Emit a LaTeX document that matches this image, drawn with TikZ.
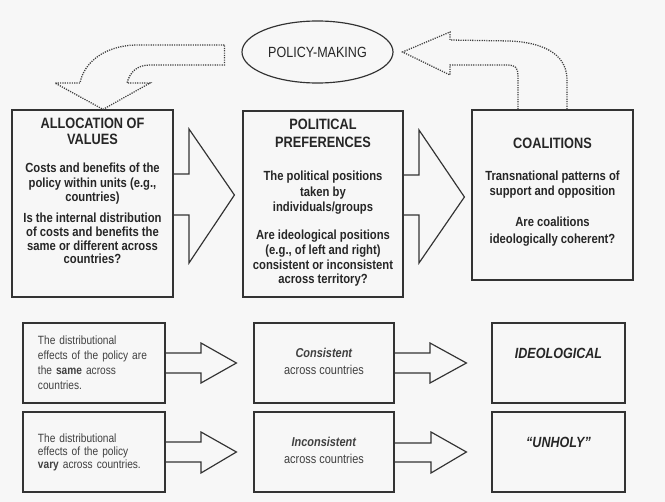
\documentclass[tikz,border=0pt]{standalone}
\usepackage{fontspec}
\setmainfont{Liberation Sans}[FakeStretch=0.85]
\usetikzlibrary{shapes.geometric, positioning, calc}

\begin{document}
\begin{tikzpicture}[
  x=0.03cm, y=-0.03cm,
  box/.style={rectangle, draw=black!80, line width=1pt, inner sep=0pt},
  lowbox/.style={box, minimum height=2.4cm, text=black!75},
  heading/.style={font=\bfseries\fontsize{12.8}{#1}\selectfont, align=center, inner sep=0pt, anchor=north, text=black!85},
  bodytext/.style={font=\bfseries\fontsize{11.3}{#1}\selectfont, align=center, inner sep=0pt, anchor=north, text=black!85},
  bigarrow/.style={draw=black!80, line width=1pt, line join=miter},
  dotarrow/.style={draw=black!75, line width=1.1pt, dash pattern=on 1pt off 1pt}
]
  \fill[black!3] (0,0) rectangle (665,502);

  % top row
  \node[ellipse, draw=black!80, line width=1pt, minimum width=4.53cm, minimum height=1.86cm, inner sep=0pt,
        font=\fontsize{12.6}{14}\selectfont, text=black!85] (policy) at (317.5,52) {POLICY-MAKING};

  \node[box, minimum width=4.83cm, minimum height=5.61cm] (alloc) at (92.5,203.5) {};
  \node[box, minimum width=4.8cm, minimum height=5.58cm] (prefs) at (323,204) {};
  \node[box, minimum width=4.83cm, minimum height=5.1cm] (coal) at (552.5,195) {};

  \node[heading=13.7] (alloc-head) at (92.5,118) {ALLOCATION OF\\VALUES};
  \node[bodytext=12.2] (alloc-units) at (92.5,163) {Costs and benefits of the\\policy within units (e.g.,\\countries)};
  \node[bodytext=11.7] (alloc-dist) at (92.5,213) {Is the internal distribution\\of costs and benefits the\\same or different across\\countries?};

  \node[heading=15.4] (prefs-head) at (323,118.5) {POLITICAL\\PREFERENCES};
  \node[bodytext=13.2] (prefs-pos) at (323,171) {The political positions\\taken by\\individuals/groups};
  \node[bodytext=12.5] (prefs-ideo) at (323,230) {Are ideological positions\\(e.g., of left and right)\\consistent or inconsistent\\across territory?};

  \node[heading=14] (coal-head) at (552.5,137.5) {COALITIONS};
  \node[bodytext=12.8] (coal-pat) at (552.5,171) {Transnational patterns of\\support and opposition};
  \node[bodytext=14.5] (coal-ideo) at (552.5,217) {Are coalitions\\ideologically coherent?};

  % bottom rows
  \node[lowbox, minimum width=4.26cm, text width=3.36cm, inner xsep=0.45cm, align=left,
        font=\fontsize{10.2}{12.8}\selectfont] (same) at (94,363)
        {The distributional\\effects of the policy are\\the \textbf{same} across\\countries.};
  \node[lowbox, minimum width=4.26cm, text width=3.36cm, inner xsep=0.45cm, align=left,
        font=\fontsize{10.2}{11.1}\selectfont] (vary) at (94,452)
        {The distributional\\effects of the policy\\\textbf{vary} across countries.};
  \node[lowbox, minimum width=4.2cm, align=center, text depth=0.1cm, font=\fontsize{11}{14.5}\selectfont] (cons) at (324,363)
        {\textbf{\itshape Consistent}\\across countries};
  \node[lowbox, minimum width=4.2cm, align=center, text depth=0.1cm, font=\fontsize{11}{14.5}\selectfont] (incons) at (324,452)
        {\textbf{\itshape Inconsistent}\\across countries};
  \node[lowbox, minimum width=3.99cm, text depth=0.6cm, font=\bfseries\itshape\fontsize{12.6}{14}\selectfont, text=black!85] (ideo) at (558.5,363) {IDEOLOGICAL};
  \node[lowbox, minimum width=3.99cm, text depth=0.6cm, font=\bfseries\itshape\fontsize{12.6}{14}\selectfont, text=black!85] (unholy) at (558.5,452) {“UNHOLY”};

  % hollow arrows
  \draw[bigarrow] (alloc.east |- 0,174) -| (189,129) -- ($(prefs.west |- 0,195)+(-8,0)$) -- (189,263) |- (alloc.east |- 0,215);
  \draw[bigarrow] (prefs.east |- 0,175) -| (419,130) -- ($(coal.west |- 0,197)+(-7,0)$) -- (419,263) |- (prefs.east |- 0,215);
  \draw[bigarrow] (same.east |- 0,353) -| (201,343) -- ($(cons.west)+(-17,0)$) -- (201,383) |- (same.east |- 0,373);
  \draw[bigarrow] (vary.east |- 0,442) -| (201,432) -- ($(incons.west)+(-17,0)$) -- (201,473) |- (vary.east |- 0,462);
  \draw[bigarrow] (cons.east |- 0,353) -| (430,343) -- ($(ideo.west)+(-25,0)$) -- (430,383) |- (cons.east |- 0,373);
  \draw[bigarrow] (incons.east |- 0,443) -| (431,432) -- ($(unholy.west)+(-25,0)$) -- (431,473) |- (incons.east |- 0,462);

  % feedback loop
  \draw[dotarrow] ($(policy.west)+(-17,-7)$) -- (135,45) .. controls (105,46) and (84,62) .. (80,83)
    -- (55,83) -- ($(alloc.north)+(10.5,0)$) -- (150,83) -- (127,83)
    .. controls (130,72) and (137,65) .. (150,65) -- ($(policy.west)+(-17,13)$) -- cycle;
  \draw[dotarrow] ($(coal.north)+(-34.5,0)$) -- (518,75) .. controls (518,68) and (515,65) .. (508,65)
    -- (450,65) -- (450,75) -- ($(policy.east)+(9,0)$) -- (450,32) -- (450,40) -- (510,41)
    .. controls (550,43) and (567,58) .. (567,80) -- ($(coal.north)+(14.5,0)$);
\end{tikzpicture}
\end{document}
